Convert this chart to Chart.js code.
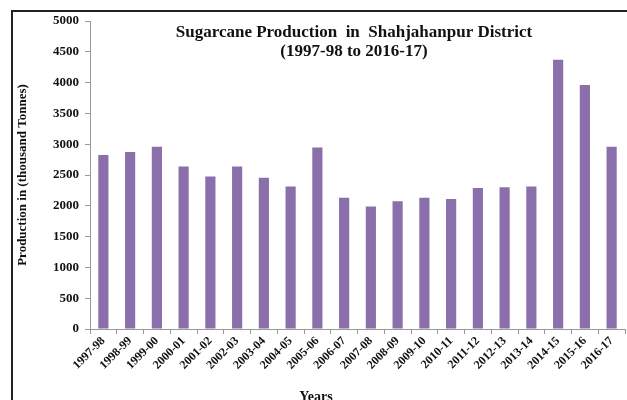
<!DOCTYPE html>
<html>
<head>
<meta charset="utf-8">
<script src="https://cdn.jsdelivr.net/npm/chart.js@4"></script>
<style>
html,body{margin:0;padding:0;background:#fff;overflow:hidden}
#wrap{position:relative;width:627px;height:400px;overflow:hidden}
#frame{position:absolute;left:11px;top:10px;width:700px;height:500px;border-left:2px solid #222;border-top:2px solid #222}
canvas{position:absolute;left:0;top:0}
</style>
</head>
<body>
<div id="wrap">
<div id="frame"></div>
<canvas id="chartSugar" width="627" height="408"></canvas>
</div>
<script>
const years=['1997-98','1998-99','1999-00','2000-01','2001-02','2002-03','2003-04','2004-05','2005-06','2006-07','2007-08','2008-09','2009-10','2010-11','2011-12','2012-13','2013-14','2014-15','2015-16','2016-17']
const production=[2825,2875,2960,2640,2475,2640,2455,2315,2945,2130,1990,2075,2130,2110,2290,2300,2315,4370,3960,2960]
const titleLines=['Sugarcane Production  in  Shahjahanpur District','(1997-98 to 2016-17)']
const xTitle='Years'
const serif='"Liberation Serif", "Times New Roman", serif'

const extraText={
  id:'extraText',
  afterDraw(chart){
    const ctx=chart.ctx
    ctx.save()
    ctx.fillStyle='#111'
    ctx.textAlign='center'
    ctx.textBaseline='middle'
    ctx.font='bold 17px '+serif
    ctx.fillText(titleLines[0],354,33)
    ctx.fillText(titleLines[1],354,52)
    ctx.font='bold 14px '+serif
    ctx.fillText(xTitle,316,397)
    ctx.restore()
  }
}

let chartSugar=new Chart(
  document.getElementById('chartSugar'),
  {
    type:'bar',
    data:{
      labels:years,
      datasets:[{data:production,backgroundColor:'#8B6FAA',categoryPercentage:1,barPercentage:0.38}]
    },
    options:{
      responsive:false,
      animation:false,
      layout:{padding:{top:21,right:2,left:12,bottom:0}},
      scales:{
        y:{
          min:0,max:5000,
          afterFit:s=>{s.width=78},
          ticks:{stepSize:500,callback:v=>String(v),color:'#111',font:{family:serif,size:13,weight:'bold'},padding:6},
          grid:{display:true,drawOnChartArea:false,tickLength:5,color:'#999'},
          border:{color:'#999'},
          title:{display:true,text:'Production in (thousand Tonnes)',color:'#111',font:{family:serif,size:13,weight:'bold'},padding:{top:3,bottom:4}}
        },
        x:{
          afterFit:s=>{s.height=79},
          ticks:{minRotation:45,maxRotation:45,color:'#111',font:{family:serif,size:12,weight:'bold'},padding:0},
          grid:{display:true,drawOnChartArea:false,offset:true,tickLength:5,color:'#999'},
          border:{color:'#999'}
        }
      },
      plugins:{
        legend:{display:false},
        tooltip:{enabled:false},
        title:{display:false}
      }
    },
    plugins:[extraText]
  }
)
</script>
</body>
</html>
